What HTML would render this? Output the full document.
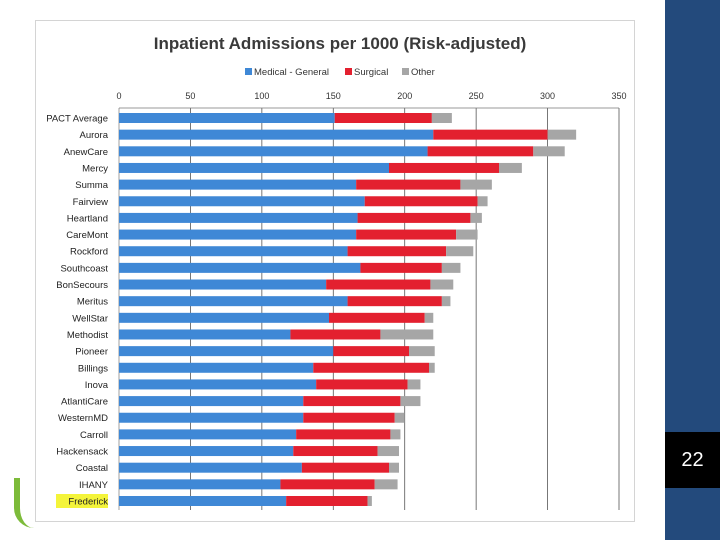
<!DOCTYPE html>
<html><head><meta charset="utf-8"><style>
body{margin:0;width:720px;height:540px;overflow:hidden;background:#fff;font-family:"Liberation Sans",sans-serif;position:relative}
</style></head><body>
<div style="position:absolute;left:665px;top:0;width:55px;height:540px;background:#234a7c"></div>
<div style="position:absolute;left:665px;top:432px;width:55px;height:56px;background:#000;color:#fff;font-size:20px;line-height:56px;text-align:center">22</div>
<div style="position:absolute;left:35px;top:20px;width:600px;height:502px;border:1px solid #d4d4d4;box-sizing:border-box;background:#fff"></div>
<div style="position:absolute;left:14px;top:478px;width:30px;height:50px;border-left:6px solid #7dbb3a;border-radius:0 0 0 20px;box-sizing:border-box"></div>
<svg id="chart" width="720" height="540" style="position:absolute;left:0;top:0">
<text x="340" y="49" text-anchor="middle" font-size="17" font-weight="bold" fill="#3a3a3a">Inpatient Admissions per 1000 (Risk-adjusted)</text>
<g id="legend"></g><g id="grid"></g><g id="bars"></g><g id="labels"></g>
</svg>
<script>
const categories=["PACT Average","Aurora","AnewCare","Mercy","Summa","Fairview","Heartland","CareMont","Rockford","Southcoast","BonSecours","Meritus","WellStar","Methodist","Pioneer","Billings","Inova","AtlantiCare","WesternMD","Carroll","Hackensack","Coastal","IHANY","Frederick"];
const medical=[151,220,216,189,166,172,167,166,160,169,145,160,147,120,150,136,138,129,129,124,122,128,113,117];
const surgical=[68,80,74,77,73,79,79,70,69,57,73,66,67,63,53,81,64,68,64,66,59,61,66,57];
const other=[14,20,22,16,22,7,8,15,19,13,16,6,6,37,18,4,9,14,7,7,15,7,16,3];
const ticks=[0,50,100,150,200,250,300,350];
const seriesNames=["Medical - General","Surgical","Other"];
const colors=["#3f88d6","#e3202f","#a6a6a6"];
const NS="http://www.w3.org/2000/svg";
const x=v=>119+v*(500/350);
const rowY=i=>118+i*(383/(categories.length-1));
function mk(tag,attrs,parent){const e=document.createElementNS(NS,tag);for(const k in attrs)e.setAttribute(k,attrs[k]);parent.appendChild(e);return e;}
const grid=document.getElementById('grid'),bars=document.getElementById('bars'),labels=document.getElementById('labels'),legend=document.getElementById('legend');
ticks.forEach(t=>{
 const l=mk('line',{x1:x(t),x2:x(t),y1:108,y2:510,stroke:t===0?'#888':'#555','stroke-width':0.8},grid);
 
 
 const tx=mk('text',{x:x(t),y:99,'text-anchor':'middle','font-size':9,fill:'#333'},labels);
 tx.textContent=t;
 
 
});
const topLine=mk('line',{x1:119,x2:619,y1:108,y2:108,stroke:'#777','stroke-width':0.8},grid);


categories.forEach((c,i)=>{
 const y=rowY(i);
 const vals=[medical[i],surgical[i],other[i]];
 let acc=0;
 vals.forEach((v,s)=>{
  const r=mk('rect',{x:x(acc),y:y-5,width:x(acc+v)-x(acc),height:10,fill:colors[s]},bars);
  
  
  acc+=v;
 });
 if(i===categories.length-1){const h=mk('rect',{x:56,y:y-7,width:52,height:14,fill:'#f4f43a'},labels);}
 const t=mk('text',{x:108,y:y+3.5,'text-anchor':'end','font-size':9.5,fill:'#222'},labels);
 t.textContent=c;
 
 
});
const lx=[245,345,402];
seriesNames.forEach((n,s)=>{
 const r=mk('rect',{x:lx[s],y:68,width:7,height:7,fill:colors[s]},legend);
 
 
 const t=mk('text',{x:lx[s]+9,y:75,'font-size':9.5,fill:'#333'},legend);
 t.textContent=n;
 
 
});
</script>
</body></html>
